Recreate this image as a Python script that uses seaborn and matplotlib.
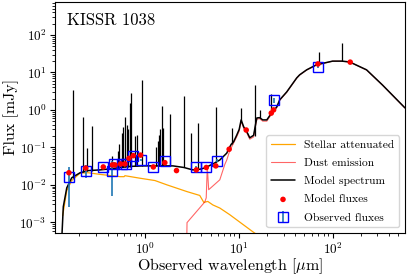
import numpy as np
import matplotlib
matplotlib.use('Agg')
import matplotlib.pyplot as plt
import seaborn as sns

# model spectrum continuum (um, mJy)
model_wl = [0.128, 0.131, 0.135, 0.147, 0.166, 0.204, 0.25, 0.332, 0.45, 0.542, 0.7, 0.95, 1.4, 1.99,
            2.6, 3.24, 3.84, 4.3, 4.57, 5.3, 6.28, 7.45, 7.8, 8.3, 8.8, 9.5, 10.1, 10.6, 11.3,
            12.2, 13.1, 14.4, 15.2, 15.6, 16.7, 18.0, 19.9, 22.4, 25.4, 27.3, 32.4, 41.4, 44.5,
            52.9, 67.5, 100, 125, 152, 230, 340, 590]
model_flux = [3e-4, 5.3e-4, 0.0026, 0.0083, 0.0154, 0.021, 0.024, 0.025, 0.027, 0.029, 0.031, 0.032, 0.032, 0.032,
              0.029, 0.025, 0.026, 0.028, 0.030, 0.036, 0.046, 0.07, 0.09, 0.12, 0.14, 0.21, 0.30, 0.54, 0.35,
              0.26, 0.18, 0.21, 0.45, 0.61, 0.62, 0.54, 0.54, 0.83, 1.2, 1.85, 3.0, 7.1, 8.6,
              11.7, 16.0, 20.0, 20.0, 19.0, 11.7, 4.6, 1.13]

# emission lines: wavelength, base, peak
line_wl = [0.173, 0.221, 0.24, 0.271, 0.442, 0.516, 0.535, 0.565, 0.583, 0.613, 0.64, 0.665,
           0.693, 0.71, 0.78, 0.822, 0.936, 1.31, 1.37, 1.41, 1.44, 1.52, 1.55, 1.85, 2.6,
           3.08, 3.66, 5.69, 8.43, 10.6, 14.8, 16.7, 21.9, 71, 125]
line_base = [0.015, 0.022, 0.023, 0.023, 0.027, 0.028, 0.028, 0.029, 0.029, 0.029, 0.030, 0.030,
             0.030, 0.031, 0.031, 0.031, 0.032, 0.032, 0.032, 0.032, 0.032, 0.032, 0.032, 0.032, 0.029,
             0.026, 0.026, 0.04, 0.12, 0.5, 0.2, 0.62, 0.8, 16.5, 20.0]
line_peak = [3.4, 0.66, 0.097, 0.375, 0.057, 0.08, 0.12, 0.24, 0.35, 0.65, 0.4, 0.3,
             1.5, 2.8, 0.2, 0.21, 6.3, 0.1, 0.15, 0.21, 0.3, 1.28, 0.33, 0.78, 2.36,
             0.24, 0.46, 1.2, 0.32, 1.13, 4.6, 1.0, 2.7, 35, 61]

# stellar attenuated
stellar_wl = [0.133, 0.147, 0.166, 0.204, 0.248, 0.332, 0.542, 0.6, 0.613, 0.885, 1.28, 1.71,
              2.8, 3.84, 4.24, 4.68, 5.3, 6.28, 8.0, 14.1, 19.0]
stellar_flux = [0.0015, 0.007, 0.013, 0.0205, 0.021, 0.019, 0.0165, 0.0165, 0.0175, 0.015, 0.013, 0.010,
                0.0066, 0.0052, 0.0034, 0.0036, 0.0029, 0.0024, 0.0016, 5.6e-4, 3.3e-4]

# dust emission
dust_wl = [2.79, 2.81, 4.35, 4.5, 4.62, 4.78, 6.28, 7.1, 7.45, 8.0, 8.8, 9.5, 10.1, 10.6, 11.3,
           12.2, 13.1, 14.4, 15.2, 15.6, 16.7, 18.0, 19.9, 22.4, 25.4, 27.3, 32.4, 41.4, 44.5,
           52.9, 67.5, 100, 125, 152, 230, 340, 590]
dust_flux = [3e-4, 9.8e-4, 0.0035, 0.0045, 0.03, 0.0074, 0.0136, 0.035, 0.046, 0.08, 0.13, 0.19, 0.27, 0.5, 0.32,
             0.24, 0.165, 0.19, 0.42, 0.57, 0.58, 0.5, 0.5, 0.78, 1.15, 1.8, 2.95, 7.0, 8.5,
             11.6, 15.9, 19.9, 19.9, 18.9, 11.6, 4.6, 1.12]

# model fluxes
mod_wl = [0.155, 0.234, 0.36, 0.45, 0.48, 0.551, 0.613, 0.676, 0.751, 0.9, 1.23, 1.63, 2.17,
          3.53, 4.51, 5.69, 7.9, 12.0, 22.2, 23.5, 69.8, 154]
mod_flux = [0.021, 0.028, 0.030, 0.034, 0.034, 0.036, 0.036, 0.051, 0.060, 0.062, 0.030, 0.039, 0.024,
            0.025, 0.029, 0.032, 0.089, 0.29, 0.82, 1.0, 16.8, 18.8]

# observed fluxes
obs_wl = [0.155, 0.234, 0.36, 0.443, 0.47, 0.565, 0.628, 0.751, 0.906, 1.23, 1.63, 3.5, 4.45, 5.8, 23.5, 70]
obs_flux = [0.0166, 0.024, 0.0296, 0.024, 0.036, 0.036, 0.036, 0.057, 0.046, 0.029, 0.042, 0.029, 0.029,
            0.044, 1.8, 14.3]
obs_err = [0.014, 0.009, 0.002, 0.019, 0.004, 0.003, 0.003, 0.004, 0.004, 0.003, 0.005, 0.003, 0.003,
           0.004, 0.25, 1.5]

sns.set_style('ticks')
plt.rcParams['font.family'] = 'serif'
plt.rcParams['font.serif'] = ['cmr10', 'DejaVu Serif']
plt.rcParams['mathtext.fontset'] = 'cm'
plt.rcParams['axes.formatter.use_mathtext'] = True
plt.rcParams['axes.unicode_minus'] = False
plt.rcParams['axes.edgecolor'] = 'black'
plt.rcParams['xtick.color'] = 'black'
plt.rcParams['ytick.color'] = 'black'
plt.rcParams['text.color'] = 'black'
plt.rcParams['axes.labelcolor'] = 'black'

fig = plt.figure(figsize=(4.07, 2.75), dpi=100)
ax = fig.add_axes([0.135, 0.153, 0.86, 0.84])

sns.lineplot(x=stellar_wl, y=stellar_flux, ax=ax, color='orange', lw=0.9, sort=False,
             estimator=None, label='Stellar attenuated')
sns.lineplot(x=dust_wl, y=dust_flux, ax=ax, color='red', alpha=0.6, lw=0.8, sort=False,
             estimator=None, label='Dust emission')
sns.lineplot(x=model_wl, y=model_flux, ax=ax, color='black', lw=1.1, sort=False,
             estimator=None, label='Model spectrum')
ax.vlines(line_wl, line_base, line_peak, color='black', lw=0.9)
sns.scatterplot(x=mod_wl, y=mod_flux, ax=ax, color='red', s=16, edgecolor='none',
                zorder=5, label='Model fluxes')
eb = ax.errorbar(obs_wl, obs_flux, yerr=obs_err, fmt='s', mfc='none', mec='blue', mew=1.0,
                 ms=7.5, ecolor='C0', elinewidth=1.2, zorder=4, label='Observed fluxes')

ax.set_xscale('log')
ax.set_yscale('log')
ax.set_xlim(0.11, 590)
ax.set_ylim(5.2e-4, 7.6e2)
ax.set_xlabel(r'Observed wavelength [$\mu$m]', fontsize=11.5, labelpad=-0.5)
ax.set_ylabel('Flux [mJy]', fontsize=11.5, labelpad=0)
ax.tick_params(labelsize=9.5, pad=2.5)
ax.text(0.035, 0.955, 'KISSR 1038', transform=ax.transAxes, fontsize=12, va='top', ha='left')

h, l = ax.get_legend_handles_labels()
order = ['Stellar attenuated', 'Dust emission', 'Model spectrum', 'Model fluxes', 'Observed fluxes']
hd = dict(zip(l, h))
ax.legend([hd[k] for k in order], order, loc='lower right', fontsize=8.3,
          labelspacing=0.7, handlelength=2.1, handletextpad=0.8)

fig.savefig('out.png', dpi=100)
